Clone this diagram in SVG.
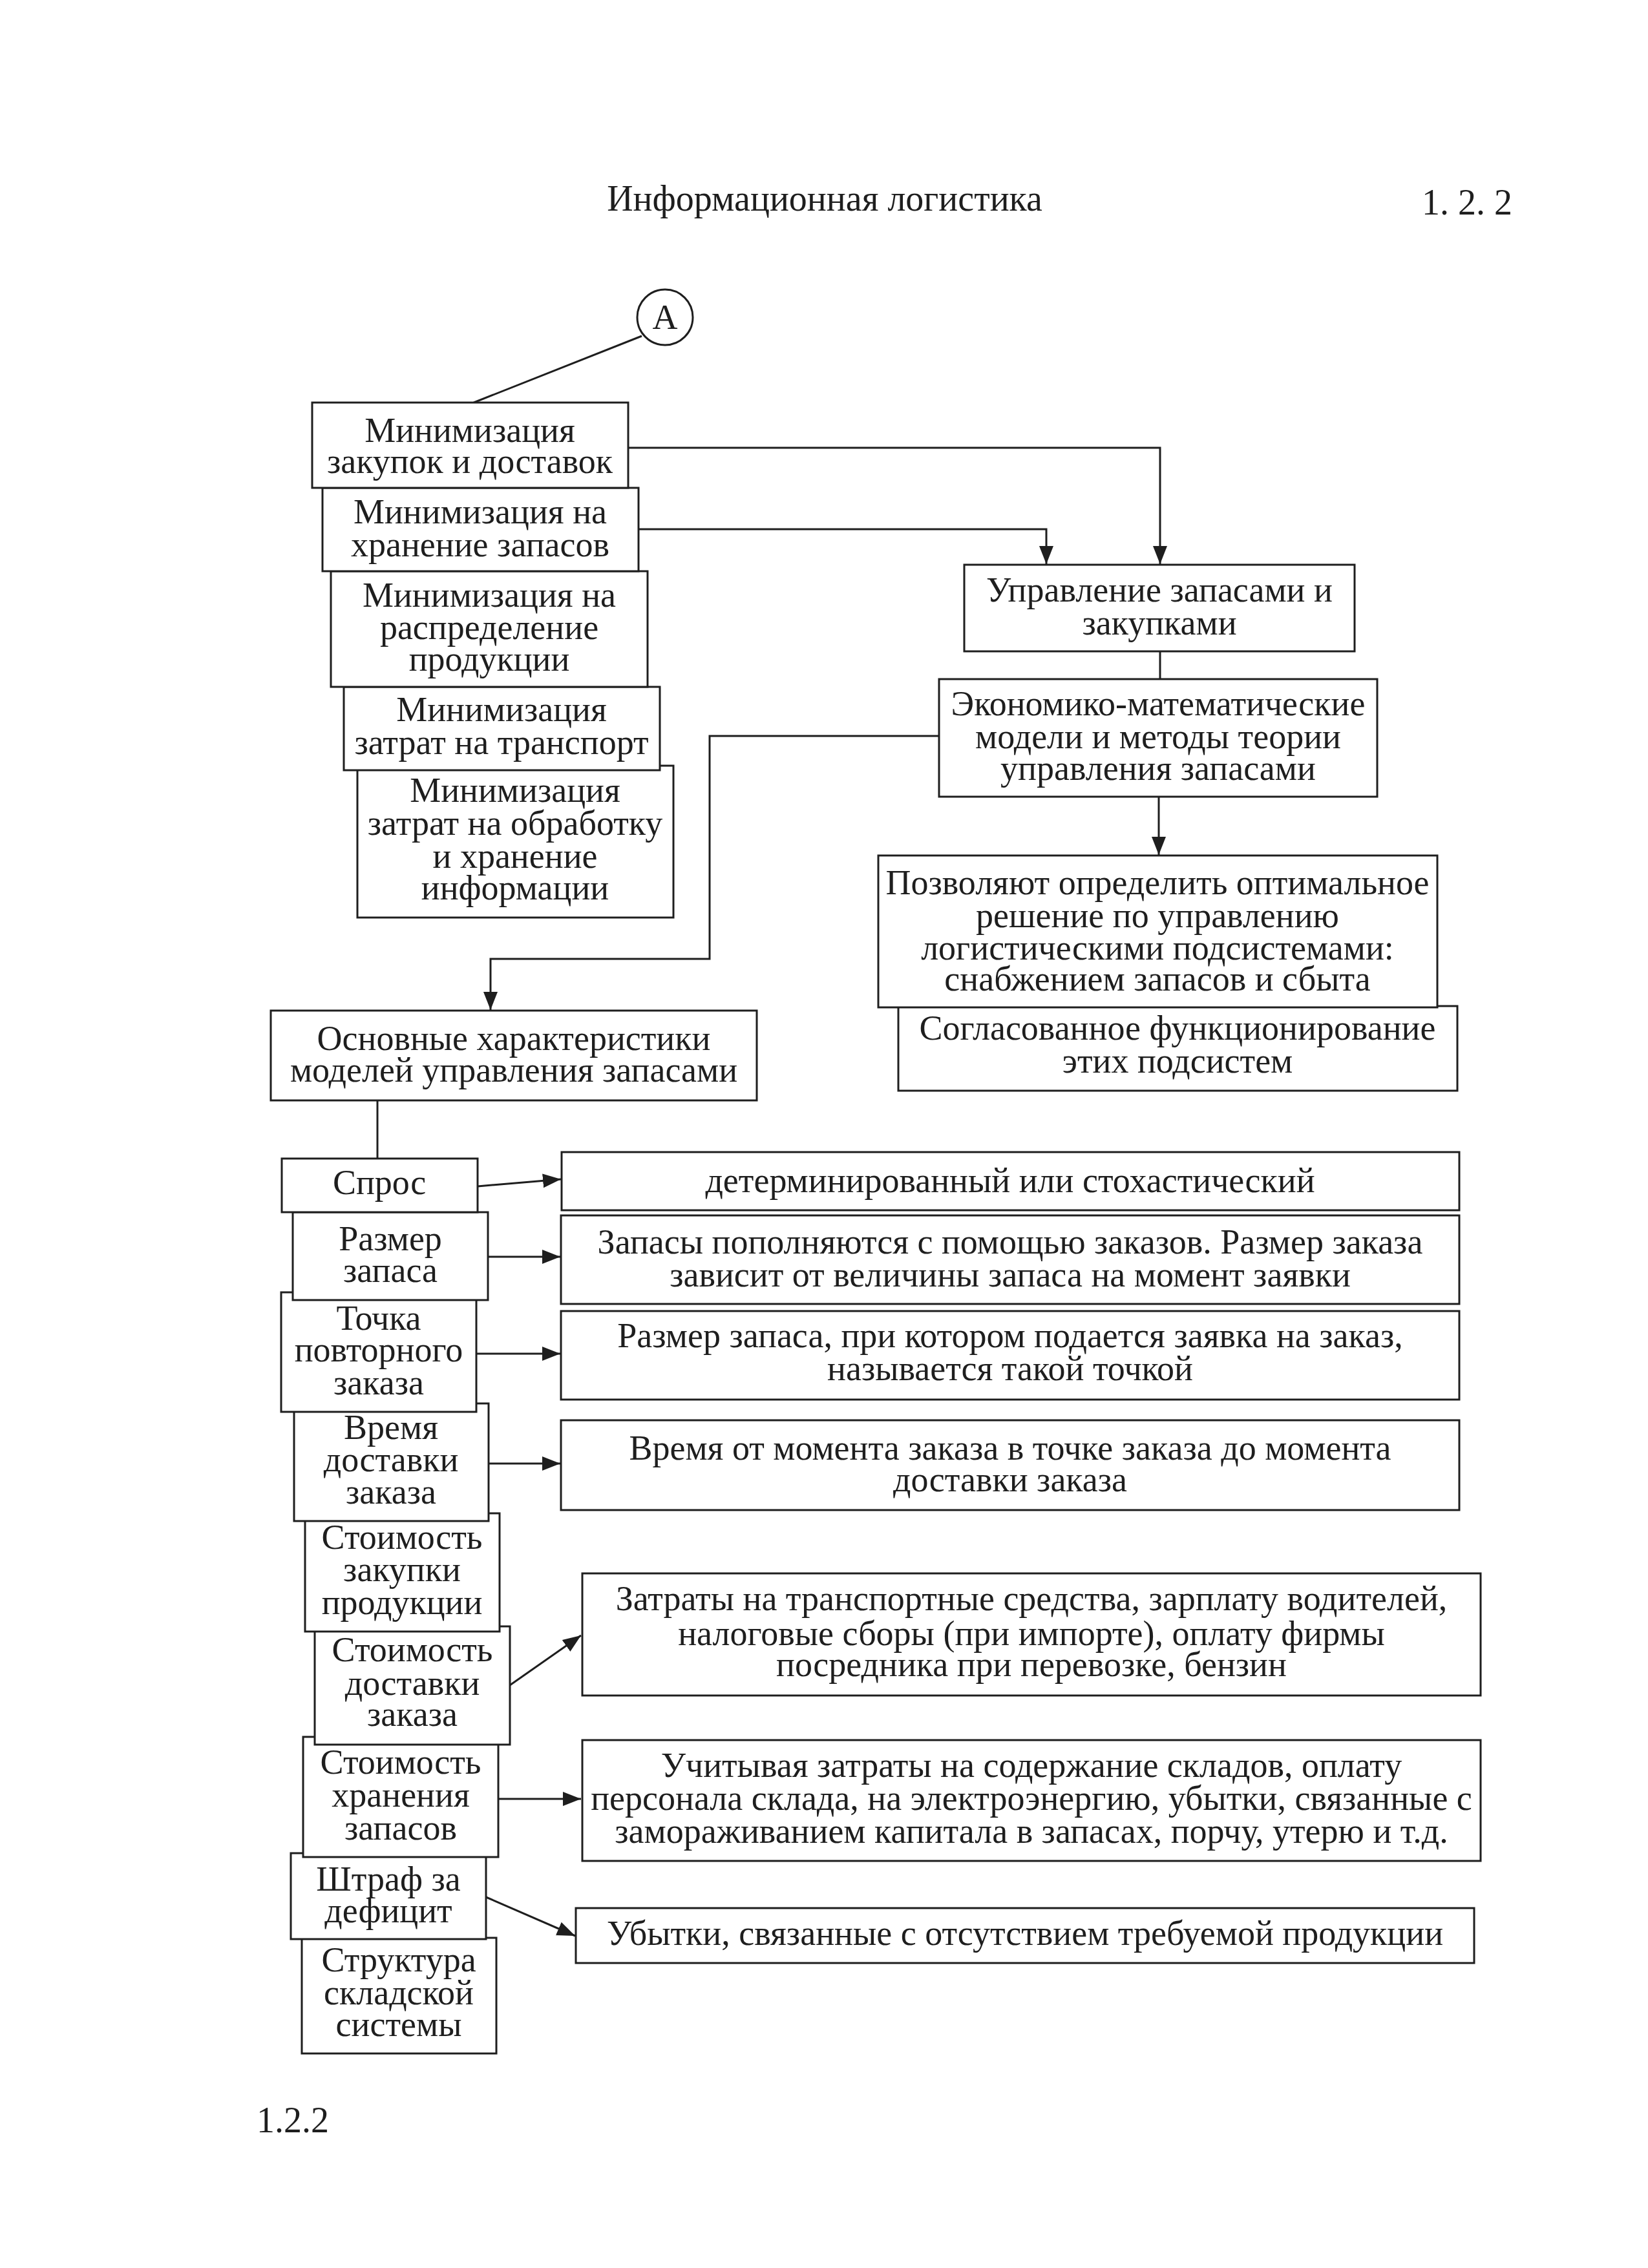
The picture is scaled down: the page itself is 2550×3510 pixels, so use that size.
<svg xmlns="http://www.w3.org/2000/svg" width="2550" height="3510" viewBox="0 0 2550 3510">
  <style>
    .box { fill: #ffffff; stroke: #1e1e1e; stroke-width: 3; }
    .t { font-family: "Liberation Serif", "Times New Roman", serif; font-size: 54px; fill: #1e1e1e; text-anchor: middle; }
    .hdr { font-family: "Liberation Serif", "Times New Roman", serif; font-size: 56px; fill: #1e1e1e; }
    .ln { fill: none; stroke: #1e1e1e; stroke-width: 3; }
    .arr { marker-end: url(#head); }
  </style>
  <defs>
    <marker id="head" markerUnits="userSpaceOnUse" markerWidth="30" markerHeight="24" refX="28" refY="11" orient="auto">
      <path d="M0,0 L28,11 L0,22 Z" fill="#1e1e1e"/>
    </marker>
  </defs>
  <rect width="2550" height="3510" fill="#ffffff"/>

  <!-- page header and footer -->
  <text class="hdr" x="1276" y="326" text-anchor="middle" font-size="60">Информационная логистика</text>
  <text class="hdr" x="2200" y="332">1. 2. 2</text>
  <text class="hdr" x="397" y="3300" font-size="43">1.2.2</text>

  <!-- connectors -->
  <g id="connectors">
    <line class="ln" x1="993" y1="520" x2="733" y2="623"/>
    <polyline class="ln arr" points="972,693 1795,693 1795,873"/>
    <polyline class="ln arr" points="988,819 1619,819 1619,873"/>
    <line class="ln" x1="1795" y1="1008" x2="1795" y2="1051"/>
    <polyline class="ln arr" points="1453,1139 1098,1139 1098,1484 759,1484 759,1563"/>
    <line class="ln arr" x1="1793" y1="1233" x2="1793" y2="1323"/>
    <line class="ln" x1="584" y1="1703" x2="584" y2="1793"/>
    <line class="ln arr" x1="739" y1="1836" x2="868" y2="1825"/>
    <line class="ln arr" x1="755" y1="1945" x2="867" y2="1945"/>
    <line class="ln arr" x1="737" y1="2095" x2="867" y2="2095"/>
    <line class="ln arr" x1="756" y1="2265" x2="867" y2="2265"/>
    <line class="ln arr" x1="789" y1="2608" x2="899" y2="2531"/>
    <line class="ln arr" x1="771" y1="2784" x2="899" y2="2784"/>
    <line class="ln arr" x1="752" y1="2936" x2="890" y2="2996"/>
  </g>

  <!-- start marker -->
  <g id="node-a">
    <circle cx="1029" cy="491" r="43" fill="#ffffff" stroke="#1e1e1e" stroke-width="3"/>
    <text class="t" x="1029" y="509" font-size="52">А</text>
  </g>

  <!-- left column: minimisation goals (lower boxes first so upper edges stay on top) -->
  <g id="node-min5">
    <rect class="box" x="553" y="1185" width="489" height="235"/>
    <text class="t" x="797" y="1241">Минимизация<tspan x="797" dy="51">затрат на обработку</tspan><tspan x="797" dy="51">и хранение</tspan><tspan x="797" dy="49">информации</tspan></text>
  </g>
  <g id="node-min4">
    <rect class="box" x="532" y="1063" width="489" height="129"/>
    <text class="t" x="776" y="1116">Минимизация<tspan x="776" dy="51">затрат на транспорт</tspan></text>
  </g>
  <g id="node-min3">
    <rect class="box" x="512" y="884" width="490" height="179"/>
    <text class="t" x="757" y="939">Минимизация на<tspan x="757" dy="50">распределение</tspan><tspan x="757" dy="49">продукции</tspan></text>
  </g>
  <g id="node-min2">
    <rect class="box" x="499" y="755" width="489" height="129"/>
    <text class="t" x="743" y="810">Минимизация на<tspan x="743" dy="51">хранение запасов</tspan></text>
  </g>
  <g id="node-min1">
    <rect class="box" x="483" y="623" width="489" height="132"/>
    <text class="t" x="727" y="684">Минимизация<tspan x="727" dy="48">закупок и доставок</tspan></text>
  </g>

  <!-- right column: inventory management -->
  <g id="node-upr">
    <rect class="box" x="1492" y="874" width="604" height="134"/>
    <text class="t" x="1794" y="931">Управление запасами и<tspan x="1794" dy="51">закупками</tspan></text>
  </g>
  <g id="node-econ">
    <rect class="box" x="1453" y="1051" width="678" height="182"/>
    <text class="t" x="1792" y="1107">Экономико-математические<tspan x="1792" dy="51">модели и методы теории</tspan><tspan x="1792" dy="49">управления запасами</tspan></text>
  </g>
  <g id="node-coord">
    <rect class="box" x="1390" y="1557" width="865" height="131"/>
    <text class="t" x="1822" y="1609">Согласованное функционирование<tspan x="1822" dy="51">этих подсистем</tspan></text>
  </g>
  <g id="node-optimal">
    <rect class="box" x="1359" y="1324" width="865" height="235"/>
    <text class="t" x="1791" y="1384">Позволяют определить оптимальное<tspan x="1791" dy="51">решение по управлению</tspan><tspan x="1791" dy="50">логистическими подсистемами:</tspan><tspan x="1791" dy="48">снабжением запасов и сбыта</tspan></text>
  </g>

  <g id="node-main">
    <rect class="box" x="419" y="1564" width="752" height="139"/>
    <text class="t" x="795" y="1625">Основные характеристики<tspan x="795" dy="49">моделей управления запасами</tspan></text>
  </g>

  <!-- characteristics (lower boxes first) -->
  <g id="node-struct">
    <rect class="box" x="467" y="2999" width="301" height="179"/>
    <text class="t" x="617" y="3051">Структура<tspan x="617" dy="51">складской</tspan><tspan x="617" dy="49">системы</tspan></text>
  </g>
  <g id="node-penalty">
    <rect class="box" x="450" y="2868" width="302" height="133"/>
    <text class="t" x="601" y="2926">Штраф за<tspan x="601" dy="49">дефицит</tspan></text>
  </g>
  <g id="node-holding">
    <rect class="box" x="469" y="2688" width="302" height="186"/>
    <text class="t" x="620" y="2745">Стоимость<tspan x="620" dy="51">хранения</tspan><tspan x="620" dy="51">запасов</tspan></text>
  </g>
  <g id="node-delivery-cost">
    <rect class="box" x="487" y="2517" width="302" height="183"/>
    <text class="t" x="638" y="2571">Стоимость<tspan x="638" dy="52">доставки</tspan><tspan x="638" dy="48">заказа</tspan></text>
  </g>
  <g id="node-purchase-cost">
    <rect class="box" x="472" y="2342" width="301" height="183"/>
    <text class="t" x="622" y="2397">Стоимость<tspan x="622" dy="50">закупки</tspan><tspan x="622" dy="51">продукции</tspan></text>
  </g>
  <g id="node-lead-time">
    <rect class="box" x="455" y="2172" width="301" height="182"/>
    <text class="t" x="605" y="2227">Время<tspan x="605" dy="50">доставки</tspan><tspan x="605" dy="50">заказа</tspan></text>
  </g>
  <g id="node-reorder">
    <rect class="box" x="435" y="2000" width="302" height="185"/>
    <text class="t" x="586" y="2058">Точка<tspan x="586" dy="49">повторного</tspan><tspan x="586" dy="51">заказа</tspan></text>
  </g>
  <g id="node-stock-size">
    <rect class="box" x="453" y="1876" width="302" height="136"/>
    <text class="t" x="604" y="1935">Размер<tspan x="604" dy="49">запаса</tspan></text>
  </g>
  <g id="node-demand">
    <rect class="box" x="436" y="1793" width="303" height="83"/>
    <text class="t" x="587" y="1848">Спрос</text>
  </g>

  <!-- descriptions -->
  <g id="desc-demand">
    <rect class="box" x="869" y="1783" width="1389" height="90"/>
    <text class="t" x="1563" y="1845">детерминированный или стохастический</text>
  </g>
  <g id="desc-stock-size">
    <rect class="box" x="868" y="1881" width="1390" height="137"/>
    <text class="t" x="1563" y="1940">Запасы пополняются с помощью заказов. Размер заказа<tspan x="1563" dy="51">зависит от величины запаса на момент заявки</tspan></text>
  </g>
  <g id="desc-reorder">
    <rect class="box" x="868" y="2029" width="1390" height="137"/>
    <text class="t" x="1563" y="2085">Размер запаса, при котором подается заявка на заказ,<tspan x="1563" dy="51">называется такой точкой</tspan></text>
  </g>
  <g id="desc-lead-time">
    <rect class="box" x="868" y="2198" width="1390" height="139"/>
    <text class="t" x="1563" y="2259">Время от момента заказа в точке заказа до момента<tspan x="1563" dy="49">доставки заказа</tspan></text>
  </g>
  <g id="desc-delivery-cost">
    <rect class="box" x="901" y="2435" width="1390" height="189"/>
    <text class="t" x="1596" y="2492">Затраты на транспортные средства, зарплату водителей,<tspan x="1596" dy="54">налоговые сборы (при импорте), оплату фирмы</tspan><tspan x="1596" dy="48">посредника при перевозке, бензин</tspan></text>
  </g>
  <g id="desc-holding">
    <rect class="box" x="901" y="2693" width="1390" height="187"/>
    <text class="t" x="1596" y="2750">Учитывая затраты на содержание складов, оплату<tspan x="1596" dy="51">персонала склада, на электроэнергию, убытки, связанные с</tspan><tspan x="1596" dy="51">замораживанием капитала в запасах, порчу, утерю и т.д.</tspan></text>
  </g>
  <g id="desc-penalty">
    <rect class="box" x="891" y="2953" width="1390" height="85"/>
    <text class="t" x="1586" y="3010">Убытки, связанные с отсутствием требуемой продукции</text>
  </g>
</svg>
